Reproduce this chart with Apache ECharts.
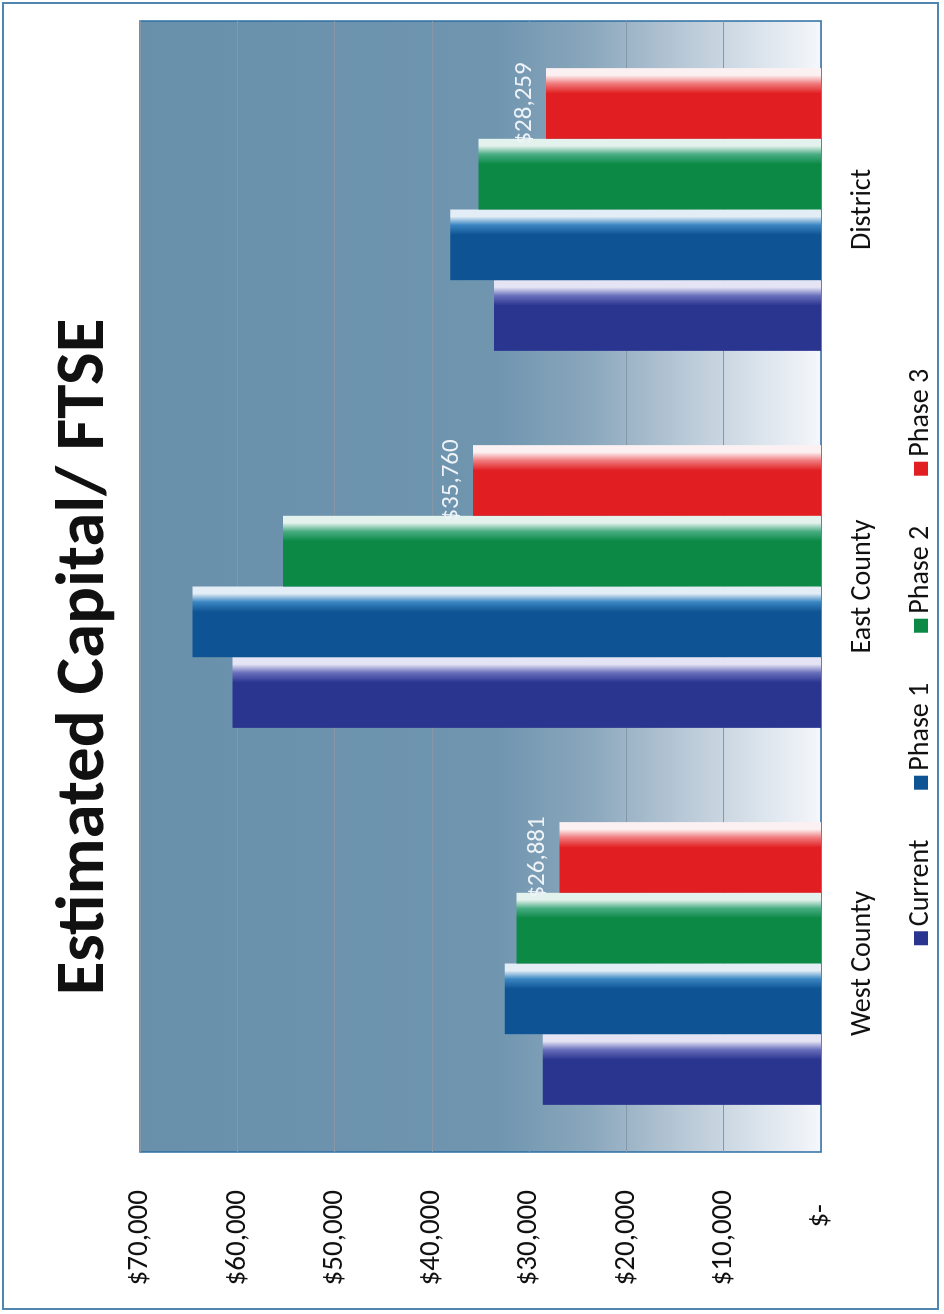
<!DOCTYPE html>
<html>
<head>
<meta charset="utf-8">
<title>Estimated Capital/ FTSE</title>
<script src="https://cdn.jsdelivr.net/npm/echarts@6/dist/echarts.min.js"></script>
<style>
  html, body { margin: 0; padding: 0; background: #ffffff; overflow: hidden; }
  body { width: 944px; height: 1314px; position: relative; }
  /* The chart is laid out landscape and turned a quarter turn to sit on the portrait page */
  #chart {
    position: absolute; left: 0; top: 0;
    width: 1314px; height: 944px;
    transform-origin: 0 0;
    transform: translate(0, 1314px) rotate(-90deg);
  }
</style>
</head>
<body>
<div id="chart"></div>
<script>
// Regions along the category axis
const categories = ['West County', 'East County', 'District'];

// Series names and their values (dollars per FTSE)
const seriesNames = ['Current', 'Phase 1', 'Phase 2', 'Phase 3'];
const current = [28600, 60500, 33600];
const phase1 = [32500, 64600, 38100];
const phase2 = [31300, 55300, 35200];
const phase3 = [26881, 35760, 28259];

// Value axis range and step
const axisMin = 0;
const axisMax = 70000;
const axisStep = 10000;

const FONT = 'Carlito, Lato, "Open Sans", sans-serif';

// Solid colour plus the pale sheen along each bar's end face
const palette = [
  { main: '#2a3590', mid: '#6a6fbc', light: '#e4e4f5' },
  { main: '#0e5393', mid: '#3a86c2', light: '#e2edf6' },
  { main: '#0b8945', mid: '#4aad84', light: '#e4f2ed' },
  { main: '#e11f22', mid: '#f07a7c', light: '#fcf1f2' }
];

function barFill(c) {
  return new echarts.graphic.LinearGradient(0, 0, 1, 0, [
    { offset: 0, color: c.main },
    { offset: 0.64, color: c.main },
    { offset: 0.78, color: c.mid },
    { offset: 0.90, color: c.light },
    { offset: 1, color: c.light }
  ]);
}

function money(v) {
  return '$' + Math.round(v).toLocaleString('en-US');
}

const seriesValues = [current, phase1, phase2, phase3];

const chart = echarts.init(document.getElementById('chart'), null, { renderer: 'canvas' });

const series = seriesValues.map(function (vals, i) {
  const s = {
    name: seriesNames[i],
    type: 'bar',
    data: vals,
    barGap: '0%',
    barCategoryGap: '25%',
    itemStyle: { color: barFill(palette[i]) },
    emphasis: { disabled: true }
  };
  if (i === 3) {
    s.label = {
      show: true,
      position: 'top',
      distance: 9,
      color: '#eef3f8',
      fontFamily: FONT,
      fontSize: 25,
      formatter: function (p) { return money(p.value); }
    };
  }
  return s;
});

chart.setOption({
  animation: false,
  backgroundColor: '#ffffff',
  title: {
    text: 'Estimated Capital/ FTSE',
    left: 'center',
    top: 46,
    textStyle: { fontFamily: FONT, fontWeight: 'bold', fontSize: 69, color: '#111111' }
  },
  graphic: [{
    type: 'rect',
    silent: true,
    z: -1,
    shape: { x: 5, y: 3, width: 1306, height: 935 },
    style: { fill: 'none', stroke: '#4f86b0', lineWidth: 2 }
  }],
  legend: {
    bottom: 4,
    left: 'center',
    icon: 'rect',
    itemWidth: 14,
    itemHeight: 14,
    itemGap: 50,
    textStyle: { fontFamily: FONT, fontSize: 28, color: '#111111' },
    data: seriesNames.map(function (n, i) {
      return { name: n, itemStyle: { color: palette[i].main } };
    })
  },
  grid: {
    left: 162,
    right: 21,
    top: 140,
    bottom: 123,
    show: true,
    borderColor: '#2d6fa4',
    borderWidth: 1.5,
    backgroundColor: new echarts.graphic.LinearGradient(0, 0, 0, 1, [
      { offset: 0, color: '#6990ab' },
      { offset: 0.52, color: '#6f95af' },
      { offset: 0.66, color: '#8aa7bc' },
      { offset: 0.78, color: '#b2c4d3' },
      { offset: 0.90, color: '#d8e1ea' },
      { offset: 1, color: '#f5f7fb' }
    ])
  },
  xAxis: {
    type: 'category',
    data: categories,
    axisTick: { show: false },
    axisLine: { lineStyle: { color: '#7d7d7d', width: 1 } },
    axisLabel: { margin: 28, fontFamily: FONT, fontSize: 28, color: '#111111' }
  },
  yAxis: {
    type: 'value',
    min: axisMin,
    max: axisMax,
    interval: axisStep,
    axisLine: { show: false },
    axisTick: { show: false },
    splitLine: { lineStyle: { color: '#8597a8', width: 1 } },
    axisLabel: {
      margin: 38,
      fontFamily: FONT,
      fontSize: 29,
      color: '#111111',
      formatter: function (v) { return v === 0 ? '{z|$-}' : money(v); },
      rich: { z: { fontFamily: FONT, fontSize: 29, color: '#111111', padding: [0, 14, 0, 0] } }
    }
  },
  series: series
});
</script>
</body>
</html>
